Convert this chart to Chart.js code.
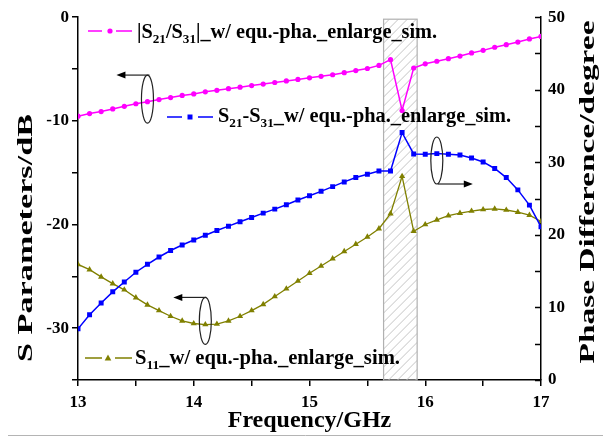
<!DOCTYPE html>
<html>
<head>
<meta charset="utf-8">
<script src="https://cdn.jsdelivr.net/npm/chart.js@4"></script>
<style>
  html, body { margin: 0; padding: 0; background: #fff; }
  #wrap { width: 603px; height: 437px; }
</style>
</head>
<body>
<div id="wrap"><canvas id="myChart" width="603" height="437"></canvas></div>
<script>
// frecuencias (GHz)
var freq = [13.0, 13.1, 13.2, 13.3, 13.4, 13.5, 13.6, 13.7, 13.8, 13.9,
            14.0, 14.1, 14.2, 14.3, 14.4, 14.5, 14.6, 14.7, 14.8, 14.9,
            15.0, 15.1, 15.2, 15.3, 15.4, 15.5, 15.6, 15.7, 15.8, 15.9,
            16.0, 16.1, 16.2, 16.3, 16.4, 16.5, 16.6, 16.7, 16.8, 16.9, 17.0];

// |S21/S31| en dB (eje izquierdo)
var ratioDB = [-9.55, -9.3, -9.1, -8.85, -8.6, -8.35, -8.15, -7.95, -7.75, -7.55,
               -7.4, -7.2, -7.05, -6.9, -6.75, -6.6, -6.45, -6.3, -6.15, -6.0,
               -5.85, -5.7, -5.55, -5.35, -5.15, -4.95, -4.65, -4.1, -9.0, -4.9,
               -4.5, -4.25, -4.0, -3.75, -3.45, -3.2, -2.9, -2.65, -2.4, -2.1, -1.85];

// S21-S31 diferencia de fase en grados (eje derecho)
var phaseDeg = [7.05, 9.0, 10.6, 12.15, 13.5, 14.85, 15.95, 16.95, 17.85, 18.6,
                19.3, 19.95, 20.6, 21.2, 21.8, 22.4, 23.0, 23.55, 24.15, 24.8,
                25.4, 26.0, 26.65, 27.3, 27.9, 28.35, 28.8, 28.8, 34.1, 31.15,
                31.1, 31.2, 31.1, 31.0, 30.6, 30.05, 29.15, 27.9, 26.2, 24.1, 21.1];

// S11 en dB (eje izquierdo)
var s11DB = [-23.85, -24.35, -25.05, -25.7, -26.3, -27.05, -27.75, -28.3, -28.85, -29.3,
             -29.55, -29.65, -29.6, -29.3, -28.85, -28.3, -27.7, -26.95, -26.2, -25.45,
             -24.7, -24.0, -23.3, -22.6, -21.9, -21.2, -20.4, -18.95, -15.35, -20.65,
             -20.0, -19.55, -19.15, -18.9, -18.7, -18.55, -18.5, -18.6, -18.8, -19.1, -19.7];

// ticks
var xTicks = [13, 14, 15, 16, 17];
var leftTicks = [0, -10, -20, -30];
var rightTicks = [0, 10, 20, 30, 40, 50];

// zona sombreada
var bandFreq = [15.64, 15.93];

var MAGENTA = '#ff00ff', BLUE = '#0000ff', OLIVE = '#808000';
var SERIF = '"Liberation Serif", "Times New Roman", serif';

function pts(ys) {
    return freq.map(function(f, i) { return { x: f, y: ys[i] }; });
}

function drawMarker(ctx, style, x, y, color) {
    ctx.fillStyle = color;
    ctx.beginPath();
    if (style === 'circle') {
        ctx.arc(x, y, 2.6, 0, Math.PI * 2);
    } else if (style === 'rect') {
        ctx.rect(x - 2.5, y - 2.5, 5, 5);
    } else {
        ctx.moveTo(x, y - 3.6);
        ctx.lineTo(x + 3.3, y + 2.4);
        ctx.lineTo(x - 3.3, y + 2.4);
        ctx.closePath();
    }
    ctx.fill();
}

// texto con subindices, escalado al ancho deseado
function drawRich(ctx, x, base, parts, target) {
    var main = 'bold 20px ' + SERIF, sub = 'bold 13px ' + SERIF;
    var w = 0;
    parts.forEach(function(p) {
        ctx.font = p[1] ? sub : main;
        w += ctx.measureText(p[0]).width;
    });
    ctx.save();
    ctx.translate(x, base);
    ctx.scale(target / w, 1);
    ctx.fillStyle = '#000';
    ctx.textBaseline = 'alphabetic';
    ctx.textAlign = 'left';
    var cx = 0;
    parts.forEach(function(p) {
        ctx.font = p[1] ? sub : main;
        ctx.fillText(p[0], cx, p[1] ? 5 : 0);
        cx += ctx.measureText(p[0]).width;
    });
    ctx.restore();
}

function drawVTitle(ctx, text, bx, cy, target) {
    ctx.save();
    ctx.font = 'bold 22px ' + SERIF;
    var w = ctx.measureText(text).width;
    ctx.translate(bx, cy);
    ctx.rotate(-Math.PI / 2);
    ctx.scale(target / w, 1);
    ctx.fillStyle = '#000';
    ctx.textAlign = 'center';
    ctx.textBaseline = 'alphabetic';
    ctx.fillText(text, 0, 0);
    ctx.restore();
}

function arrow(ctx, x1, y, x2) {
    var d = x2 > x1 ? 1 : -1;
    ctx.beginPath();
    ctx.moveTo(x1, y);
    ctx.lineTo(x2 - d * 7, y);
    ctx.stroke();
    ctx.beginPath();
    ctx.moveTo(x2, y);
    ctx.lineTo(x2 - d * 9, y - 3.5);
    ctx.lineTo(x2 - d * 9, y + 3.5);
    ctx.closePath();
    ctx.fill();
}

function ellipse(ctx, x, y, rx, ry) {
    ctx.beginPath();
    ctx.ellipse(x, y, rx, ry, 0, 0, Math.PI * 2);
    ctx.stroke();
}

var extras = {
    id: 'extras',
    beforeDatasetsDraw: function(chart) {
        var ctx = chart.ctx, a = chart.chartArea, sx = chart.scales.x;
        var x1 = sx.getPixelForValue(bandFreq[0]), x2 = sx.getPixelForValue(bandFreq[1]);
        var top = a.top + 2, bot = a.bottom;
        ctx.save();
        ctx.beginPath();
        ctx.rect(x1, top, x2 - x1, bot - top);
        ctx.clip();
        ctx.strokeStyle = '#c4c4c4';
        ctx.lineWidth = 1;
        for (var k = -400; k < 100; k += 9) {
            ctx.beginPath();
            ctx.moveTo(x1 + k, bot);
            ctx.lineTo(x1 + k + (bot - top), top);
            ctx.stroke();
        }
        ctx.restore();
        ctx.save();
        ctx.strokeStyle = '#b0b0b0';
        ctx.lineWidth = 1.2;
        ctx.strokeRect(x1, top, x2 - x1, bot - top);
        ctx.restore();
    },
    afterDraw: function(chart) {
        var ctx = chart.ctx, a = chart.chartArea;
        var sx = chart.scales.x, sy = chart.scales.y, sr = chart.scales.y1;

        // ticks interiores del eje derecho
        ctx.save();
        ctx.strokeStyle = '#000';
        ctx.lineWidth = 1.5;
        sr.ticks.forEach(function(t) {
            var py = Math.round(sr.getPixelForValue(t.value)) + 0.5;
            ctx.beginPath();
            ctx.moveTo(a.right - 6, py);
            ctx.lineTo(a.right, py);
            ctx.stroke();
        });
        ctx.restore();

        // elipses y flechas
        ctx.save();
        ctx.strokeStyle = '#222';
        ctx.fillStyle = '#000';
        ctx.lineWidth = 1.2;
        var ex = sx.getPixelForValue(13.6), ey = sy.getPixelForValue(-7.9);
        ellipse(ctx, ex, ey, 6, 24);
        arrow(ctx, ex + 2, ey - 24, ex - 31);
        ex = sx.getPixelForValue(16.1); ey = sr.getPixelForValue(30.25);
        ellipse(ctx, ex, ey, 6, 23.5);
        arrow(ctx, ex + 1, ey + 23.5, ex + 36);
        ex = sx.getPixelForValue(14.1); ey = sy.getPixelForValue(-29.3);
        ellipse(ctx, ex, ey, 6, 23.5);
        arrow(ctx, ex + 1, ey - 23.5, ex - 32);
        ctx.restore();

        // leyendas
        var legends = [
            { y: 31, d: [88, 102, 116, 132], m: 110, style: 'circle', c: MAGENTA,
              tx: 137, base: 38, w: 300,
              parts: [['|S', 0], ['21', 1], ['/S', 0], ['31', 1], ['|_w/ equ.-pha._enlarge_sim.', 0]] },
            { y: 117, d: [167, 182, 198, 213], m: 190, style: 'rect', c: BLUE,
              tx: 218, base: 122, w: 293,
              parts: [['S', 0], ['21', 1], ['-S', 0], ['31', 1], ['_w/ equ.-pha._enlarge_sim.', 0]] },
            { y: 358, d: [85, 102, 115, 132], m: 108, style: 'triangle', c: OLIVE,
              tx: 135, base: 364, w: 265,
              parts: [['S', 0], ['11', 1], ['_w/ equ.-pha._enlarge_sim.', 0]] }
        ];
        legends.forEach(function(l) {
            ctx.save();
            ctx.strokeStyle = l.c;
            ctx.lineWidth = 1.5;
            ctx.beginPath();
            ctx.moveTo(l.d[0], l.y); ctx.lineTo(l.d[1], l.y);
            ctx.moveTo(l.d[2], l.y); ctx.lineTo(l.d[3], l.y);
            ctx.stroke();
            drawMarker(ctx, l.style, l.m, l.y, l.c);
            ctx.restore();
            drawRich(ctx, l.tx, l.base, l.parts, l.w);
        });

        // titulos de ejes
        ctx.save();
        ctx.font = 'bold 24px ' + SERIF;
        ctx.fillStyle = '#000';
        ctx.textAlign = 'center';
        ctx.textBaseline = 'alphabetic';
        ctx.fillText('Frequency/GHz', (a.left + a.right) / 2, 427);
        ctx.restore();
        drawVTitle(ctx, 'S Parameters/dB', 32, 238, 248);
        drawVTitle(ctx, 'Phase Difference/degree', 594, 192, 343);

        // linea gris inferior
        ctx.save();
        ctx.strokeStyle = '#b4b4b4';
        ctx.lineWidth = 1;
        ctx.beginPath();
        ctx.moveTo(8, 435.5);
        ctx.lineTo(603, 435.5);
        ctx.stroke();
        ctx.restore();
    }
};

var tickFont = { family: SERIF, size: 17, weight: 'bold' };

var ctx = document.getElementById('myChart').getContext('2d');
var myChart = new Chart(ctx, {
    type: 'line',
    data: {
        datasets: [{
            label: '|S21/S31|',
            data: pts(ratioDB),
            yAxisID: 'y',
            borderColor: MAGENTA,
            backgroundColor: MAGENTA,
            borderWidth: 1.5,
            pointStyle: 'circle',
            pointRadius: 2.6,
            pointBorderWidth: 0
        }, {
            label: 'S21-S31',
            data: pts(phaseDeg),
            yAxisID: 'y1',
            borderColor: BLUE,
            backgroundColor: BLUE,
            borderWidth: 1.5,
            pointStyle: 'rect',
            pointRadius: 3.5,
            pointBorderWidth: 0
        }, {
            label: 'S11',
            data: pts(s11DB),
            yAxisID: 'y',
            borderColor: OLIVE,
            backgroundColor: OLIVE,
            borderWidth: 1.3,
            pointStyle: 'triangle',
            pointRadius: 3.6,
            pointBorderWidth: 0
        }]
    },
    options: {
        responsive: false,
        animation: false,
        layout: { padding: { top: 13, left: 0, right: 0, bottom: 0 } },
        plugins: {
            legend: { display: false },
            tooltip: { enabled: false }
        },
        scales: {
            x: {
                type: 'linear',
                min: 13, max: 17,
                ticks: {
                    stepSize: 0.5,
                    autoSkip: false,
                    maxRotation: 0,
                    padding: 6,
                    color: '#000',
                    font: tickFont,
                    callback: function(v) { return xTicks.indexOf(v) >= 0 ? String(v) : ''; }
                },
                grid: { drawOnChartArea: false, drawTicks: true, tickLength: 6, color: '#000', lineWidth: 1.5 },
                border: { color: '#000', width: 1.5 },
                afterFit: function(s) { s.height = 57; }
            },
            y: {
                position: 'left',
                min: -35, max: 0,
                ticks: {
                    stepSize: 5,
                    padding: 3,
                    color: '#000',
                    font: tickFont,
                    callback: function(v) { return leftTicks.indexOf(v) >= 0 ? String(v) : ''; }
                },
                grid: { drawOnChartArea: false, drawTicks: true, tickLength: 6, color: '#000', lineWidth: 1.5 },
                border: { color: '#000', width: 1.5 },
                afterFit: function(s) { s.width = 78; }
            },
            y1: {
                position: 'right',
                min: 0, max: 50,
                ticks: {
                    stepSize: 5,
                    padding: 7,
                    color: '#000',
                    font: tickFont,
                    callback: function(v) { return rightTicks.indexOf(v) >= 0 ? String(v) : ''; }
                },
                grid: { drawOnChartArea: false, drawTicks: false, color: '#000', lineWidth: 1.5 },
                border: { color: '#000', width: 1.5 },
                afterFit: function(s) { s.width = 62; }
            }
        }
    },
    plugins: [extras]
});
</script>
</body>
</html>
